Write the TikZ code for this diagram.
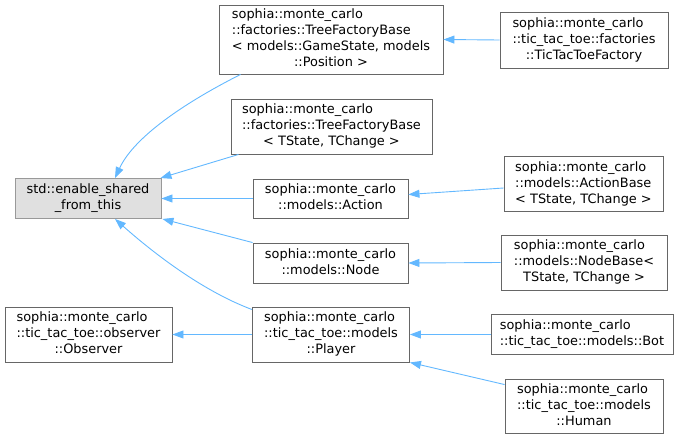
\documentclass[tikz,border=0pt]{standalone}
\usepackage{fontspec}
\setmainfont{DejaVu Sans}
\usepackage{tikz}
\usetikzlibrary{arrows.meta, positioning}
\definecolor{edge1}{RGB}{99,184,255}
\definecolor{box1}{RGB}{102,102,102}
\definecolor{root1}{RGB}{224,224,224}
\definecolor{rootline1}{RGB}{153,153,153}
% lines before the last one are left aligned, the last one is centred
\newcommand{\cls}[2]{\begin{tabular}{@{}l@{}}#1\\\multicolumn{1}{@{}c@{}}{#2}\end{tabular}}

\begin{document}
\begin{tikzpicture}[x=1pt, y=-1pt,
    cls/.style={draw=box1, fill=white, line width=0.9pt, inner sep=0pt, font=\fontsize{12.9}{16}\selectfont},
    rootcls/.style={cls, draw=rootline1, fill=root1},
    inh/.style={draw=edge1, line width=0.9pt, -{Triangle[length=11pt, width=8pt]}}
]
    \useasboundingbox (0,0) rectangle (683,439);

    \node[rootcls, name=enable, minimum width=146pt, minimum height=40pt] at(88,198.5) {\cls{std::enable\_shared}{\_from\_this}};

    \node[cls, name=tfbgame, minimum width=224pt, minimum height=69pt] at(331,39.5) {\cls{sophia::monte\_carlo\\::factories::TreeFactoryBase\\< models::GameState, models}{::Position >}};
    \node[cls, name=tttfact, minimum width=168pt, minimum height=56pt] at(584,40) {\cls{sophia::monte\_carlo\\::tic\_tac\_toe::factories}{::TicTacToeFactory}};
    \node[cls, name=tfbgen, minimum width=201pt, minimum height=55pt] at(331.5,126.5) {\cls{sophia::monte\_carlo\\::factories::TreeFactoryBase}{< TState, TChange >}};

    \node[cls, name=action, minimum width=155pt, minimum height=39pt] at(330.5,198.5) {\cls{sophia::monte\_carlo}{::models::Action}};
    \node[cls, name=actbase, minimum width=159pt, minimum height=55pt] at(583.5,184) {\cls{sophia::monte\_carlo\\::models::ActionBase}{< TState, TChange >}};
    \node[cls, name=nodecls, minimum width=155pt, minimum height=40pt] at(330.5,263) {\cls{sophia::monte\_carlo}{::models::Node}};
    \node[cls, name=nodebase, minimum width=166pt, minimum height=55pt] at(584,262.5) {\cls{sophia::monte\_carlo\\::models::NodeBase<}{TState, TChange >}};

    \node[cls, name=observer, minimum width=167pt, minimum height=55pt] at(88.5,334.5) {\cls{sophia::monte\_carlo\\::tic\_tac\_toe::observer}{::Observer}};
    \node[cls, name=player, minimum width=157pt, minimum height=55pt] at(331,334.5) {\cls{sophia::monte\_carlo\\::tic\_tac\_toe::models}{::Player}};
    \node[cls, name=bot, minimum width=182pt, minimum height=40pt] at(582,334.5) {\cls{sophia::monte\_carlo}{::tic\_tac\_toe::models::Bot}};
    \node[cls, name=human, minimum width=158pt, minimum height=54pt] at(584,406) {\cls{sophia::monte\_carlo\\::tic\_tac\_toe::models}{::Human}};

    \draw[inh] ([xshift=22pt]tfbgame.south west) .. controls (190,100) and (135,135) .. ([xshift=27pt]enable.north);
    \draw[inh] ([xshift=8pt]tfbgen.south west) -- ([xshift=-1pt]enable.north east);
    \draw[inh] (action.west) -- (enable.east);
    \draw[inh] (nodecls.north west) -- ([xshift=1pt]enable.south east);
    \draw[inh] ([yshift=-3pt]player.north west) .. controls (200,290) and (150,250) .. ([xshift=27pt]enable.south);

    \draw[inh] (tttfact.west) -- (tfbgame.east);
    \draw[inh] ([yshift=-4pt]actbase.west) -- ([yshift=4pt]action.east);
    \draw[inh] (nodebase.west) -- (nodecls.east);
    \draw[inh] (player.west) -- (observer.east);
    \draw[inh] (bot.west) -- (player.east);
    \draw[inh] ([yshift=-6pt]human.north west) -- (player.south east);
\end{tikzpicture}
\end{document}
